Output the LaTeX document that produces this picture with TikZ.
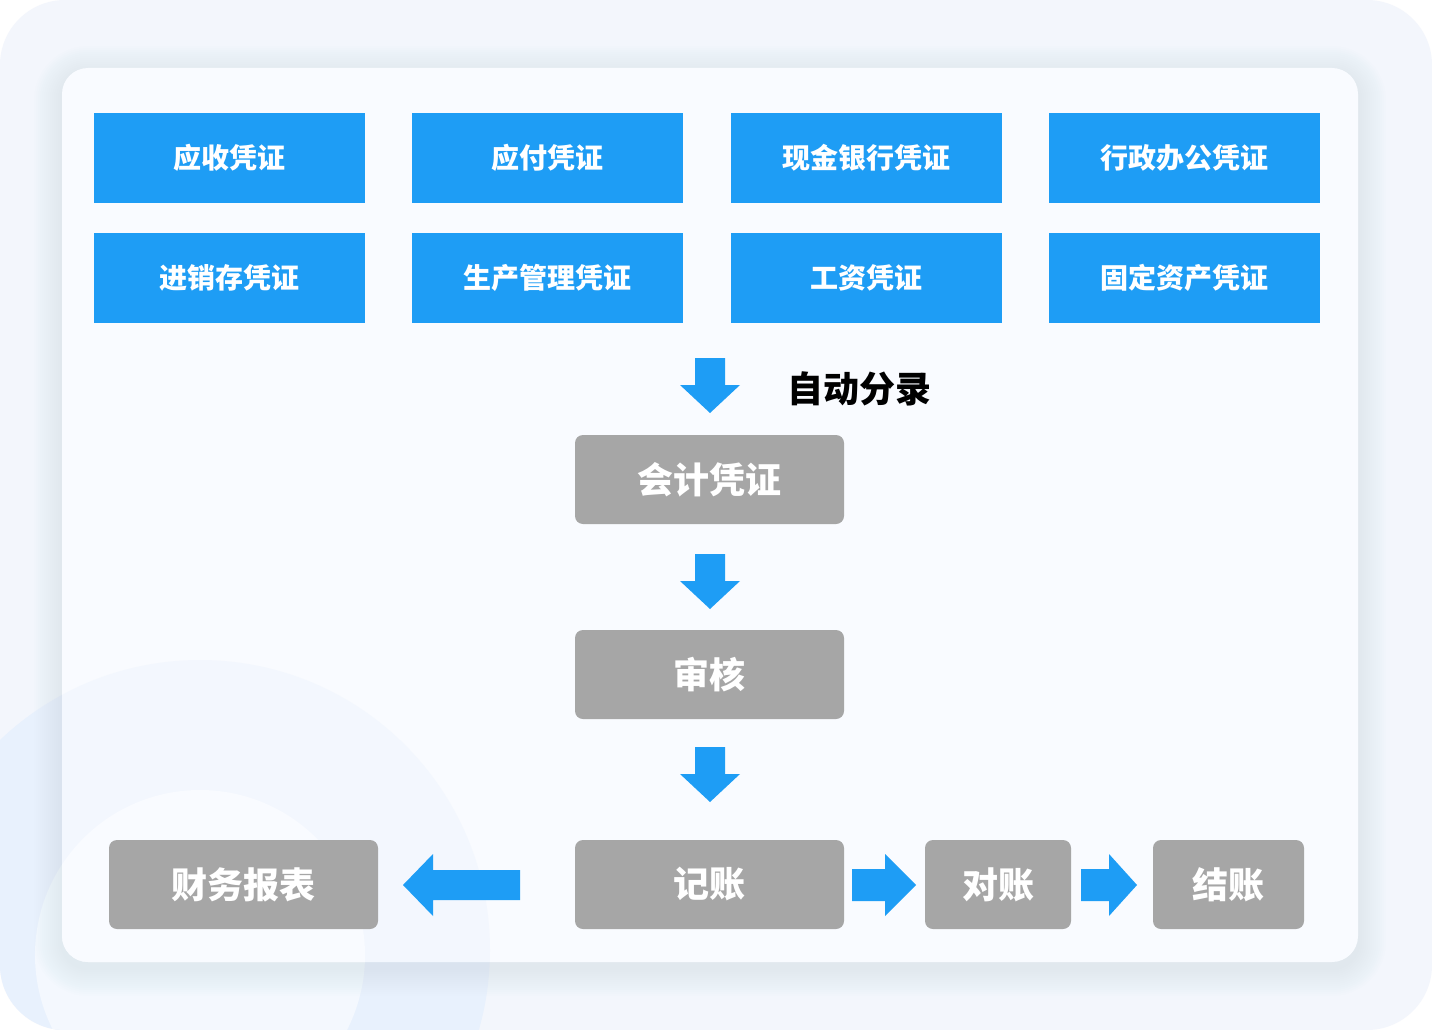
\documentclass[tikz,border=0pt]{standalone}
\usepackage{fontspec}
\newfontfamily\cjk{Noto Sans CJK SC}
\definecolor{bgblue}{RGB}{243,246,252}
\definecolor{cardfill}{RGB}{249,251,255}
\definecolor{circblue}{RGB}{232,241,253}
\definecolor{circlight}{RGB}{244,248,254}
\definecolor{boxblue}{RGB}{30,157,245}
\definecolor{boxgray}{RGB}{166,166,166}
\definecolor{shadowcol}{RGB}{150,165,200}
\tikzset{
  bluebox/.style={fill=boxblue, minimum width=271pt, minimum height=90pt, inner sep=0pt,
    text=white, font=\cjk\bfseries\fontsize{28}{30}\selectfont},
  graybox/.style={fill=boxgray, rounded corners=8pt, minimum height=89pt, inner sep=0pt,
    text=white, font=\cjk\bfseries\fontsize{36}{38}\selectfont},
  labeltext/.style={text=black, font=\cjk\bfseries\fontsize{36}{38}\selectfont, inner sep=0pt},
  arrowfill/.style={fill=boxblue}
}
\newcommand{\blockarrow}[6]{%
  \fill[arrowfill, shift={(#1)}, rotate=#2]
    (0,-#5) -- (#3-#4,-#5) -- (#3-#4,-#6) -- (#3,0) -- (#3-#4,#6) -- (#3-#4,#5) -- (0,#5) -- cycle;}
\begin{document}
\begin{tikzpicture}[x=1pt,y=-1pt]
\useasboundingbox (0,0) rectangle (1432,1030);
% outer background
\fill[white] (0,0) rectangle (1432,1030);
\fill[bgblue, rounded corners=65pt] (0,0) rectangle (1432,1030);
\begin{scope}
  \clip[rounded corners=65pt] (0,0) rectangle (1432,1030);
  \fill[circblue] (200,950) circle[radius=290];
  \fill[circlight] (200,955) circle[radius=165];
  % soft shadow of card
  \foreach \i in {1,...,14} {
    \fill[shadowcol, opacity=0.012, rounded corners={26pt+\i*2pt}]
      (62-\i*2,68-\i*2+6) rectangle (1358+\i*2,962+\i*2+6);
  }
\end{scope}
% card
\fill[cardfill, rounded corners=26pt] (62,68) rectangle (1358,962);
\begin{scope}
  \clip[rounded corners=26pt] (62,68) rectangle (1358,962);
  \fill[circblue, opacity=0.35] (200,950) circle[radius=290];
  \fill[cardfill] (200,955) circle[radius=165];
\end{scope}
% blue boxes
\node[bluebox] (ys)  at (229.5,158) {应收凭证};
\node[bluebox] (yf)  at (547.5,158) {应付凭证};
\node[bluebox] (xj)  at (866.5,158) {现金银行凭证};
\node[bluebox] (xz)  at (1184.5,158) {行政办公凭证};
\node[bluebox] (jxc) at (229.5,278) {进销存凭证};
\node[bluebox] (sc)  at (547.5,278) {生产管理凭证};
\node[bluebox] (gz)  at (866.5,278) {工资凭证};
\node[bluebox] (gd)  at (1184.5,278) {固定资产凭证};
% flow
\node[labeltext, anchor=west] (zd) at (787,389) {自动分录};
\node[graybox, minimum width=269pt] (kj) at (709.5,479.5) {会计凭证};
\node[graybox, minimum width=269pt] (sh) at (709.5,674.5) {审核};
\node[graybox, minimum width=269pt] (jz) at (709.5,884.5) {记账};
\node[graybox, minimum width=269pt] (cw) at (243.5,884.5) {财务报表};
\node[graybox, minimum width=146pt] (dz) at (998,884.5) {对账};
\node[graybox, minimum width=151pt] (jiez) at (1228.5,884.5) {结账};
% arrows
\coordinate (a1) at (710,358);
\coordinate (a2) at (710,554);
\coordinate (a3) at (710,747);
\coordinate (a4) at (520,885);
\coordinate (a5) at (852,885);
\coordinate (a6) at (1081,885);
\blockarrow{a1}{-90}{55}{28}{15}{30}
\blockarrow{a2}{-90}{55}{28}{15}{30}
\blockarrow{a3}{-90}{55}{28}{15}{30}
\blockarrow{a4}{180}{117}{30}{15}{31}
\blockarrow{a5}{0}{64}{31}{16}{31}
\blockarrow{a6}{0}{56}{28}{16}{31}
\end{tikzpicture}
\end{document}
